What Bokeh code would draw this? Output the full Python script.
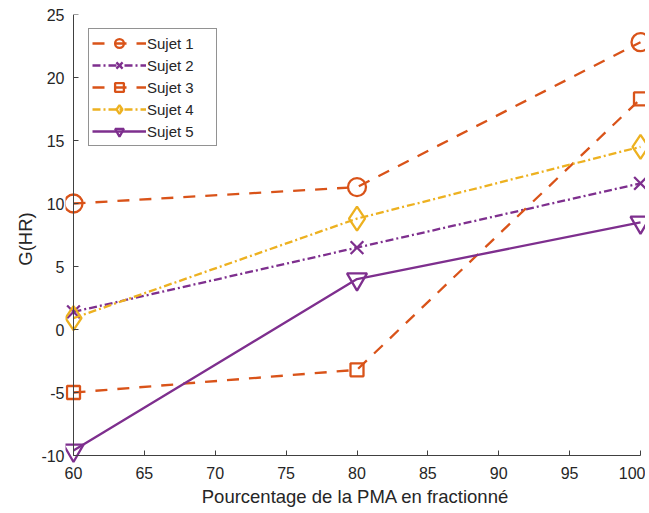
from bokeh.plotting import figure
from bokeh.models import Legend, LegendItem, Range1d, FixedTicker, LinearAxis
from bokeh.embed import file_html
from bokeh.resources import INLINE

x_vals = [60, 80, 100]
sujet1 = [10.0, 11.3, 22.8]
sujet2 = [1.4, 6.5, 11.6]
sujet3 = [-5.0, -3.2, 18.3]
sujet4 = [0.9, 8.8, 14.5]
sujet5 = [-9.6, 4.0, 8.5]
names = ["Sujet 1", "Sujet 2", "Sujet 3", "Sujet 4", "Sujet 5"]
x_ticks = [60, 65, 70, 75, 80, 85, 90, 95, 100]
y_ticks = [-10, -5, 0, 5, 10, 15, 20, 25]
x_lim = (60, 100)
y_lim = (-10, 25)

ORANGE = "#D95319"
PURPLE = "#7E2F8E"
YELLOW = "#EDB120"
FONT = "Liberation Sans"
TXT = "#262626"
AXC = "#404040"

# axes box in pixels (MATLAB-like); the plotting frame is padded left/bottom/right
# so that markers sitting on the axes are not clipped
W, H = 645, 509
ax_left, ax_right, ax_top, ax_bottom = 73, 640, 14, 455
fr_left, fr_right, fr_top, fr_bottom = 65, W, 14, 463
xs = (ax_right - ax_left) / (x_lim[1] - x_lim[0])
ys = (ax_bottom - ax_top) / (y_lim[1] - y_lim[0])
x_range = Range1d(x_lim[0] - (ax_left - fr_left) / xs, x_lim[1] + (fr_right - ax_right) / xs)
y_range = Range1d(y_lim[0] - (fr_bottom - ax_bottom) / ys, y_lim[1] + (ax_top - fr_top) / ys)

p = figure(width=W, height=H, output_backend="svg", toolbar_location=None,
           x_range=x_range, y_range=y_range,
           min_border_left=fr_left, min_border_right=W - fr_right,
           min_border_top=fr_top, min_border_bottom=H - fr_bottom)
p.outline_line_color = None
p.grid.visible = False
p.background_fill_color = "white"

# label-only axes on the frame edges
for ax in (p.xaxis[0], p.yaxis[0]):
    ax.axis_line_color = None
    ax.major_tick_line_color = None
    ax.minor_tick_line_color = None
    ax.major_tick_in = 0
    ax.major_tick_out = 0
    ax.major_label_text_color = TXT
    ax.major_label_text_font = FONT
    ax.major_label_text_font_size = "16px"
    ax.axis_label_text_font = FONT
    ax.axis_label_text_font_size = "18.5px"
    ax.axis_label_text_font_style = "normal"
    ax.axis_label_text_color = TXT
p.xaxis.ticker = FixedTicker(ticks=x_ticks)
p.yaxis.ticker = FixedTicker(ticks=y_ticks)
p.xaxis.major_label_overrides = {t: str(t) for t in x_ticks}
p.yaxis.major_label_overrides = {t: str(t) for t in y_ticks}
p.xaxis.axis_label = "Pourcentage de la PMA en fractionné"
p.yaxis.axis_label = "G(HR)"
p.xaxis.major_label_standoff = 3
p.yaxis.major_label_standoff = 1
p.xaxis.axis_label_standoff = 4
p.yaxis.axis_label_standoff = 2

# axis lines with inward ticks at the true axis positions
xline = LinearAxis(fixed_location=y_lim[0], bounds=x_lim, ticker=FixedTicker(ticks=x_ticks),
                   major_label_text_font_size="0px", major_label_text_alpha=0,
                   major_tick_in=5, major_tick_out=0, minor_tick_in=0, minor_tick_out=0,
                   axis_line_color=AXC, major_tick_line_color=AXC, major_label_standoff=0)
yline = LinearAxis(fixed_location=x_lim[0], bounds=y_lim, ticker=FixedTicker(ticks=y_ticks),
                   major_label_text_font_size="0px", major_label_text_alpha=0,
                   major_tick_in=5, major_tick_out=0, minor_tick_in=0, minor_tick_out=0,
                   axis_line_color=AXC, major_tick_line_color=AXC, major_label_standoff=0)
p.add_layout(xline, "below")
p.add_layout(yline, "left")

items = []
specs = [
    (sujet1, ORANGE, "12 10", "circle", 18),
    (sujet2, PURPLE, "8 3 2 3", "x", 18),
    (sujet3, ORANGE, "12 10", "square", 13),
    (sujet4, YELLOW, "8 3 2 3", "diamond", 24),
    (sujet5, PURPLE, "solid", "inverted_triangle", 20),
]
for name, (yv, col, dash, mk, sz) in zip(names, specs):
    ln = p.line(x_vals, yv, line_color=col, line_width=2.3, line_dash=dash)
    sc = p.scatter(x_vals, yv, marker=mk, size=sz, line_color=col, line_width=2.3,
                   fill_color=None)
    items.append(LegendItem(label=name, renderers=[ln, sc]))

legend = Legend(items=items, location=(23, 317), glyph_width=54, glyph_height=22,
                label_height=22, label_width=66,
                label_text_font=FONT, label_text_font_size="15px", label_text_color=TXT,
                spacing=0, padding=3, margin=0, label_standoff=1,
                border_line_color="#262626", border_line_width=1,
                background_fill_color="white", background_fill_alpha=1.0)
p.add_layout(legend)

open("out.html", "w").write(file_html(p, INLINE))
